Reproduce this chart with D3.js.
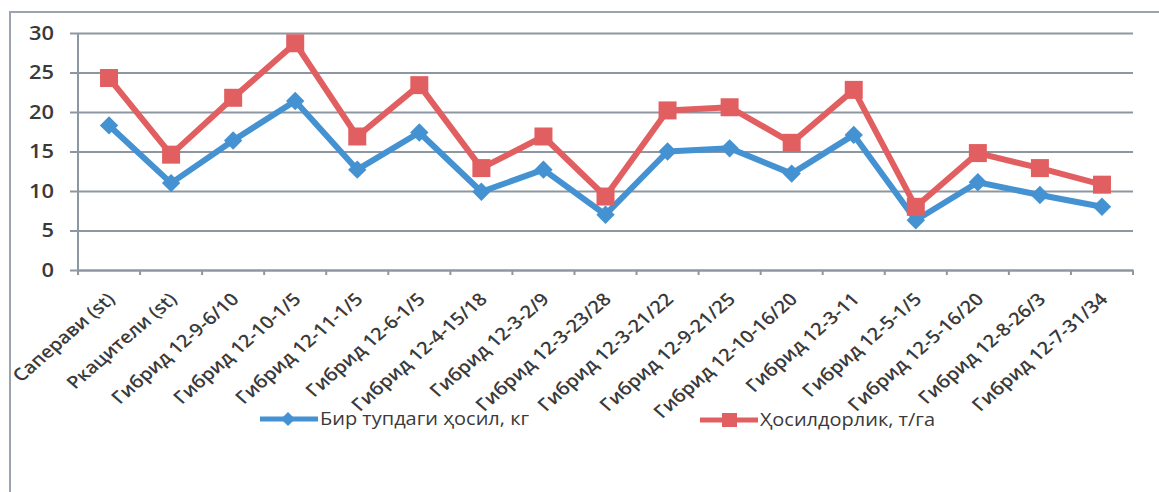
<!DOCTYPE html>
<html><head><meta charset="utf-8">
<script src="https://cdn.jsdelivr.net/npm/d3@7"></script>
<style>
body{margin:0;background:#fff;}
svg{display:block;}
</style></head>
<body>
<svg id="chart" width="1159" height="492"></svg>
<script>
const categories = ["Саперави (st)","Ркацители (st)","Гибрид 12-9-6/10","Гибрид 12-10-1/5","Гибрид 12-11-1/5","Гибрид 12-6-1/5","Гибрид 12-4-15/18","Гибрид 12-3-2/9","Гибрид 12-3-23/28","Гибрид 12-3-21/22","Гибрид 12-9-21/25","Гибрид 12-10-16/20","Гибрид 12-3-11","Гибрид 12-5-1/5","Гибрид 12-5-16/20","Гибрид 12-8-26/3","Гибрид 12-7-31/34"];
const yieldPerVine = [18.3,11.0,16.4,21.4,12.7,17.4,9.9,12.7,7.0,15.0,15.4,12.2,17.1,6.3,11.1,9.5,8.0];
const yieldPerHa = [24.3,14.6,21.8,28.7,16.9,23.4,12.9,16.9,9.3,20.2,20.6,16.1,22.8,8.0,14.8,12.9,10.8];
const yTicks = [0,5,10,15,20,25,30];
const seriesNames = ["Бир тупдаги ҳосил, кг","Ҳосилдорлик, т/га"];

const svg = d3.select("#chart");
const gridCol = "#8d97a2", blue = "#4592d2", red = "#e25f61", txt = "#3a3a3a";
const font = "'Open Sans',sans-serif";
const stretch = 1.15; // the picture is horizontally stretched

// outer chart border
svg.append("rect").attr("x",10).attr("y",12).attr("width",1170).attr("height",500)
  .attr("fill","none").attr("stroke","#9ba4ad").attr("stroke-width",2);

const x = d3.scaleBand().domain(categories).range([78,1133]).padding(0);
const y = d3.scaleLinear().domain([0,30]).range([270,33]);

// gridlines + y axis
const ya = svg.append("g").attr("transform","translate(78,0)")
  .call(d3.axisLeft(y).tickValues(yTicks).tickSize(8).tickPadding(16));
ya.select(".domain").remove();
ya.selectAll(".tick line").attr("stroke",gridCol).attr("stroke-width",2)
  .attr("x1",-8).attr("x2",1133-78);
ya.selectAll(".tick text").attr("x",0).attr("transform",`translate(-24,0) scale(${stretch},1)`)
  .attr("fill",txt).style("font-family",font)
  .style("font-size","19px").style("font-weight","600");
svg.append("line").attr("x1",78).attr("x2",78).attr("y1",33).attr("y2",275)
  .attr("stroke",gridCol).attr("stroke-width",2);

// x axis
const xa = svg.append("g").attr("transform","translate(0,270)")
  .call(d3.axisBottom(x).tickSize(0).tickPadding(0));
xa.select(".domain").attr("stroke",gridCol).attr("stroke-width",2);
xa.selectAll(".tick text")
  .attr("y",0)
  .attr("text-anchor","end")
  .attr("transform",`translate(2,26) scale(${stretch},1) rotate(-45)`)
  .attr("dy","0.35em")
  .attr("fill",txt).style("font-family",font)
  .style("font-size","17.5px").style("font-weight","600");
// boundary tick marks
const bounds = categories.map(c=>x(c)).concat([x.range()[1]]);
svg.append("g").selectAll("line").data(bounds).join("line")
  .attr("x1",d=>d).attr("x2",d=>d).attr("y1",270).attr("y2",275)
  .attr("stroke",gridCol).attr("stroke-width",2);

const cx = c => x(c)+x.bandwidth()/2;
const line = d3.line().x((d,i)=>cx(categories[i])).y(d=>y(d));

svg.append("path").datum(yieldPerVine).attr("d",line).attr("fill","none")
  .attr("stroke",blue).attr("stroke-width",6).attr("stroke-linejoin","round");
svg.append("path").datum(yieldPerHa).attr("d",line).attr("fill","none")
  .attr("stroke",red).attr("stroke-width",6).attr("stroke-linejoin","round");

svg.append("g").selectAll("rect").data(yieldPerVine).join("rect")
  .attr("x",-6.5).attr("y",-6.5).attr("width",13).attr("height",13)
  .attr("transform",(d,i)=>`translate(${cx(categories[i])},${y(d)}) rotate(45)`)
  .attr("fill",blue);
svg.append("g").selectAll("rect").data(yieldPerHa).join("rect")
  .attr("x",-9).attr("y",-9).attr("width",18).attr("height",18)
  .attr("transform",(d,i)=>`translate(${cx(categories[i])},${y(d)})`)
  .attr("fill",red);

// legend
const leg = [{x:260,y:419,c:blue,sym:"d"},{x:700,y:420,c:red,sym:"s"}];
leg.forEach((l,i)=>{
  const g = svg.append("g").attr("transform",`translate(${l.x},${l.y})`);
  g.append("line").attr("x1",0).attr("x2",58).attr("stroke",l.c).attr("stroke-width",5);
  if(l.sym==="d") g.append("rect").attr("x",-5).attr("y",-5).attr("width",10).attr("height",10)
     .attr("transform","translate(28,0) rotate(45)").attr("fill",l.c);
  else g.append("rect").attr("x",22).attr("y",-7).attr("width",15).attr("height",14).attr("fill",l.c);
  g.append("text").attr("x",0).attr("dy","0.35em").text(seriesNames[i])
    .attr("transform",`translate(60,0) scale(1.08,1)`)
    .attr("fill",txt).style("font-family",font).style("font-size","18.5px");
});
</script>
</body></html>
